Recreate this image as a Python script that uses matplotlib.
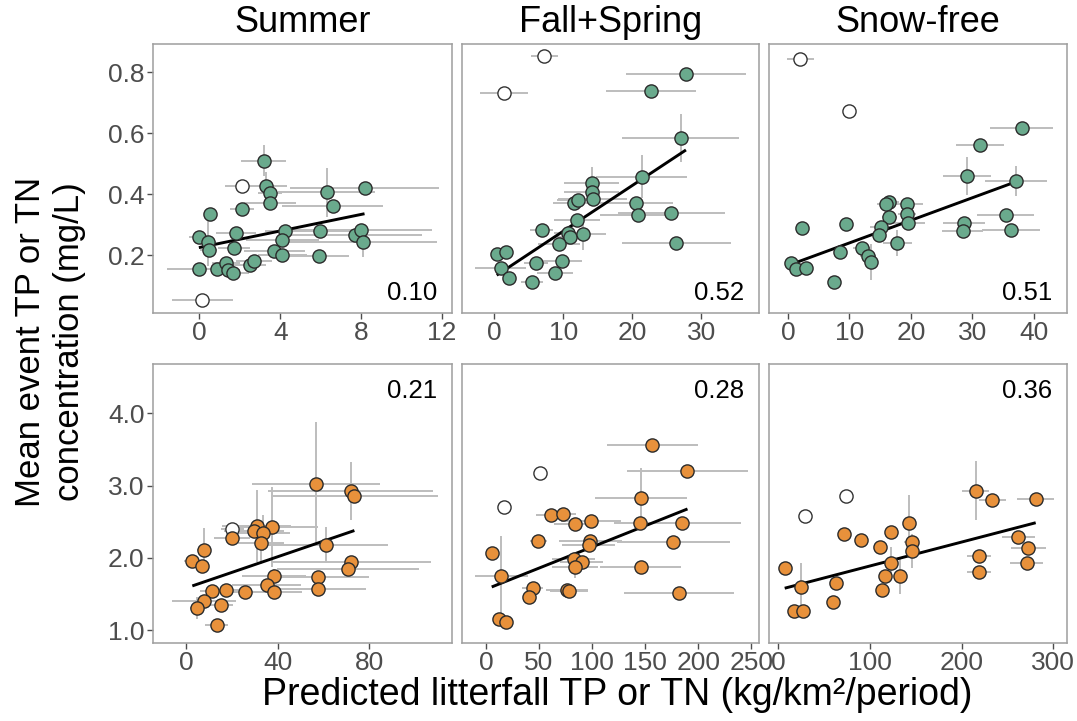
import matplotlib
matplotlib.use("Agg")
import matplotlib.pyplot as plt
import numpy as np

plt.rcParams['font.family'] = ['Liberation Sans', 'DejaVu Sans']

# ---------------- data ----------------
col_titles = ["Summer", "Fall+Spring", "Snow-free"]

# Summer TP
sum_tp_x = [3.17, 3.31, 3.50, 3.50, 2.10, 0.53, 6.31, 6.60, 8.17, -0.03, 0.40, 0.45, 1.82, 1.72, 4.25,
            4.10, 3.70, 4.10, 5.98, 5.92, 7.72, 8.02, 8.08, -0.03, 0.89, 1.31, 1.39, 1.65, 2.48, 2.71]
sum_tp_y = [0.510, 0.428, 0.403, 0.370, 0.350, 0.334, 0.406, 0.362, 0.421, 0.258, 0.243, 0.216, 0.271, 0.222, 0.279,
            0.249, 0.214, 0.200, 0.280, 0.197, 0.266, 0.282, 0.244, 0.156, 0.154, 0.175, 0.151, 0.140, 0.167, 0.181]
sum_tp_xerr = [1.1, 1.0, 0.6, 1.3, 0.6, 0.3, 2.4, 2.5, 3.7, 0.5, 0.4, 0.4, 1.0, 0.8, 1.0,
               1.8, 1.5, 1.2, 1.6, 1.5, 3.3, 3.5, 3.7, 1.6, 0.5, 0.7, 0.6, 0.8, 0.8, 0.9]
sum_tp_yerr = [0.05, 0.045, 0.03, 0.0, 0.0, 0.02, 0.08, 0.0, 0.0, 0.0, 0.08, 0.0, 0.0, 0.0, 0.0,
               0.0, 0.0, 0.0, 0.0, 0.0, 0.0, 0.0, 0.05, 0.0, 0.0, 0.0, 0.0, 0.0, 0.0, 0.0]
sum_tp_out_x = [2.13, 0.15]
sum_tp_out_y = [0.427, 0.054]
sum_tp_out_xerr = [0.85, 1.5]
sum_tp_fit = (0.225, 0.01357)   # intercept, slope
sum_tp_r2 = "0.10"

# Fall+Spring TP
fs_tp_x = [27.8, 22.7, 27.05, 21.35, 14.15, 14.15, 14.25, 11.55, 12.08, 20.6, 20.9, 25.7, 12.0, 6.86,
           10.7, 10.97, 12.9, 9.37, 26.4, 0.34, 1.64, 0.92, 2.13, 6.04, 9.8, 8.8, 5.5]
fs_tp_y = [0.793, 0.740, 0.585, 0.457, 0.438, 0.408, 0.383, 0.370, 0.381, 0.370, 0.331, 0.339, 0.315, 0.284,
           0.273, 0.260, 0.268, 0.238, 0.240, 0.203, 0.211, 0.158, 0.126, 0.175, 0.181, 0.140, 0.112]
fs_tp_xerr = [8.7, 6.5, 8.5, 6.6, 4.0, 4.0, 5.0, 3.0, 3.0, 5.3, 5.6, 7.8, 3.3, 1.7,
              2.0, 2.5, 3.3, 3.0, 7.9, 0.5, 0.5, 3.7, 0.8, 1.7, 2.9, 2.6, 1.6]
fs_tp_yerr = [0.0, 0.0, 0.078, 0.07, 0.05, 0.0, 0.0, 0.0, 0.0, 0.0, 0.0, 0.0, 0.0, 0.0,
              0.0, 0.0, 0.05, 0.0, 0.0, 0.0, 0.0, 0.0, 0.0, 0.0, 0.0, 0.0, 0.0]
fs_tp_out_x = [7.25, 1.40]
fs_tp_out_y = [0.854, 0.733]
fs_tp_out_xerr = [2.0, 3.5]
fs_tp_fit = (0.129, 0.01497)
fs_tp_r2 = "0.52"

# Snow-free TP
sf_tp_x = [38.0, 31.25, 29.2, 37.1, 16.5, 16.0, 19.4, 19.4, 16.5, 19.6, 15.1, 14.8, 35.4, 28.7, 28.4,
           36.25, 2.23, 9.5, 17.8, 8.4, 12.1, 13.0, 13.5, 0.43, 1.36, 3.0, 7.5]
sf_tp_y = [0.616, 0.561, 0.459, 0.443, 0.373, 0.367, 0.367, 0.335, 0.324, 0.306, 0.293, 0.266, 0.331, 0.307, 0.279,
           0.282, 0.290, 0.302, 0.240, 0.209, 0.224, 0.197, 0.177, 0.173, 0.156, 0.159, 0.112]
sf_tp_xerr = [5.2, 3.9, 3.9, 5.0, 1.5, 1.5, 2.5, 1.5, 1.2, 2.7, 1.8, 1.2, 4.7, 3.4, 3.3,
              4.7, 0.3, 0.3, 2.3, 0.4, 1.5, 1.3, 0.8, 0.5, 0.5, 0.5, 0.4]
sf_tp_yerr = [0.0, 0.0, 0.063, 0.05, 0.0, 0.0, 0.0, 0.0, 0.0, 0.0, 0.0, 0.0, 0.0, 0.0, 0.0,
              0.0, 0.0, 0.0, 0.043, 0.0, 0.0, 0.0, 0.06, 0.0, 0.0, 0.0, 0.0]
sf_tp_out_x = [2.0, 10.0]
sf_tp_out_y = [0.844, 0.674]
sf_tp_out_xerr = [2.2, 0.3]
sf_tp_fit = (0.166, 0.00741)
sf_tp_r2 = "0.51"

# Summer TN
sum_tn_x = [56.7, 71.9, 73.5, 37.5, 30.8, 29.8, 33.5, 20.1, 32.7, 7.85, 2.76, 6.98, 61.1, 71.9, 70.9,
            38.5, 57.7, 57.7, 35.2, 38.5, 25.7, 17.5, 11.3, 7.85, 4.65, 15.4, 13.4]
sum_tn_y = [3.022, 2.925, 2.856, 2.430, 2.440, 2.375, 2.348, 2.270, 2.210, 2.108, 1.956, 1.886, 2.177, 1.946, 1.840,
            1.748, 1.730, 1.564, 1.624, 1.527, 1.527, 1.554, 1.540, 1.400, 1.310, 1.356, 1.070]
sum_tn_xerr = [27.8, 36.0, 36.5, 20.0, 15.0, 13.0, 12.0, 8.0, 10.0, 3.0, 3.5, 3.0, 27.0, 35.0, 31.0,
               14.0, 22.0, 21.0, 15.0, 12.0, 8.0, 6.0, 5.0, 14.0, 3.0, 5.0, 5.0]
sum_tn_yerr = [0.86, 0.40, 0.0, 0.55, 0.50, 0.0, 0.25, 0.0, 0.30, 0.30, 0.0, 0.0, 0.25, 0.0, 0.0,
               0.10, 0.0, 0.0, 0.0, 0.0, 0.0, 0.0, 0.0, 0.0, 0.15, 0.0, 0.0]
sum_tn_out_x = [20.1]
sum_tn_out_y = [2.40]
sum_tn_out_xerr = [5.0]
sum_tn_fit = (1.583, 0.01082)
sum_tn_r2 = "0.21"

# Fall+Spring TN
fs_tn_x = [156.6, 189.9, 145.9, 145.6, 184.5, 176.6, 145.9, 182.0, 61.1, 72.5, 83.9, 99.1, 49.1, 98.4,
           96.8, 82.6, 90.2, 83.9, 5.4, 14.6, 44.0, 40.5, 76.3, 78.0, 12.7, 18.7]
fs_tn_y = [3.562, 3.200, 2.832, 2.486, 2.477, 2.223, 1.877, 1.517, 2.588, 2.606, 2.468, 2.514, 2.228, 2.237,
           2.177, 1.980, 1.937, 1.868, 2.071, 1.753, 1.578, 1.453, 1.563, 1.545, 1.153, 1.111]
fs_tn_xerr = [43.0, 57.0, 43.6, 25.0, 56.0, 53.0, 38.0, 52.0, 14.0, 12.0, 20.0, 28.0, 8.0, 30.0,
              25.0, 20.0, 20.0, 22.0, 0.0, 25.0, 10.0, 5.0, 20.0, 18.0, 0.0, 0.0]
fs_tn_yerr = [0.0, 0.0, 0.41, 0.0, 0.0, 0.0, 0.0, 0.0, 0.0, 0.0, 0.0, 0.0, 0.0, 0.0,
              0.0, 0.0, 0.0, 0.15, 0.0, 0.55, 0.0, 0.0, 0.0, 0.0, 0.0, 0.0]
fs_tn_out_x = [50.6, 17.4]
fs_tn_out_y = [3.17, 2.70]
fs_tn_out_xerr = [0.0, 0.0]
fs_tn_fit = (1.567, 0.005843)
fs_tn_r2 = "0.28"

# Snow-free TN
sf_tn_x = [215.3, 233.5, 280.7, 142.5, 123.6, 145.5, 145.5, 72.0, 90.9, 111.6, 261.8, 272.7, 270.9,
           219.3, 219.3, 122.9, 116.4, 132.7, 113.5, 63.6, 60.0, 7.3, 25.5, 17.1, 27.3]
sf_tn_y = [2.929, 2.800, 2.810, 2.477, 2.353, 2.225, 2.094, 2.325, 2.242, 2.146, 2.283, 2.140, 1.923,
           2.025, 1.808, 1.930, 1.753, 1.748, 1.554, 1.656, 1.393, 1.854, 1.600, 1.268, 1.268]
sf_tn_xerr = [15.0, 15.0, 20.0, 0.0, 0.0, 8.0, 0.0, 0.0, 0.0, 0.0, 18.0, 19.0, 18.0,
              13.0, 13.0, 8.0, 0.0, 0.0, 0.0, 0.0, 0.0, 0.0, 0.0, 0.0, 0.0]
sf_tn_yerr = [0.41, 0.0, 0.0, 0.39, 0.0, 0.0, 0.24, 0.0, 0.0, 0.0, 0.0, 0.0, 0.0,
              0.0, 0.0, 0.22, 0.0, 0.24, 0.0, 0.0, 0.0, 0.0, 0.33, 0.0, 0.0]
sf_tn_out_x = [29.5, 74.5]
sf_tn_out_y = [2.583, 2.856]
sf_tn_out_xerr = [0.0, 0.0]
sf_tn_fit = (1.557, 0.00331)
sf_tn_r2 = "0.36"

top_xticks = [[0, 4, 8, 12], [0, 10, 20, 30], [0, 10, 20, 30, 40]]
bot_xticks = [[0, 40, 80], [0, 50, 100, 150, 200, 250], [0, 100, 200, 300]]
top_yticks = [0.2, 0.4, 0.6, 0.8]
top_yticklabels = ["0.2", "0.4", "0.6", "0.8"]
bot_yticks = [1.0, 2.0, 3.0, 4.0]
bot_yticklabels = ["1.0", "2.0", "3.0", "4.0"]

# ---------------- styling ----------------
GREEN = "#6aaa8d"
ORANGE = "#e8913b"
ERR = "#bdbdbd"
BORDER = "#9e9e9e"
TICKC = "#4d4d4d"

W, H = 1077, 721
fig = plt.figure(figsize=(W / 100, H / 100), dpi=100)

col_px = [(153, 452), (462, 759), (769, 1067)]
row_px = [(44, 313), (364, 643)]
top_xlim = [(-2.3, 12.5), (-4.7, 38.4), (-3.1, 45.4)]
bot_xlim = [(-14.4, 116.1), (-22.6, 257.3), (-9.8, 314.8)]
top_ylim = (0.01, 0.893)
bot_ylim = (0.824, 4.68)

panels = [
    [(sum_tp_x, sum_tp_y, sum_tp_xerr, sum_tp_yerr, sum_tp_out_x, sum_tp_out_y, sum_tp_out_xerr, sum_tp_fit, sum_tp_r2),
     (fs_tp_x, fs_tp_y, fs_tp_xerr, fs_tp_yerr, fs_tp_out_x, fs_tp_out_y, fs_tp_out_xerr, fs_tp_fit, fs_tp_r2),
     (sf_tp_x, sf_tp_y, sf_tp_xerr, sf_tp_yerr, sf_tp_out_x, sf_tp_out_y, sf_tp_out_xerr, sf_tp_fit, sf_tp_r2)],
    [(sum_tn_x, sum_tn_y, sum_tn_xerr, sum_tn_yerr, sum_tn_out_x, sum_tn_out_y, sum_tn_out_xerr, sum_tn_fit, sum_tn_r2),
     (fs_tn_x, fs_tn_y, fs_tn_xerr, fs_tn_yerr, fs_tn_out_x, fs_tn_out_y, fs_tn_out_xerr, fs_tn_fit, fs_tn_r2),
     (sf_tn_x, sf_tn_y, sf_tn_xerr, sf_tn_yerr, sf_tn_out_x, sf_tn_out_y, sf_tn_out_xerr, sf_tn_fit, sf_tn_r2)],
]

for r in range(2):
    for c in range(3):
        x0, x1 = col_px[c]
        y0, y1 = row_px[r]
        ax = fig.add_axes([x0 / W, 1 - y1 / H, (x1 - x0) / W, (y1 - y0) / H])
        x, y, xe, ye, ox, oy, oxe, fit, r2 = panels[r][c]
        fill = GREEN if r == 0 else ORANGE
        x = np.array(x); y = np.array(y)
        # error bars
        ax.errorbar(ox, oy, xerr=oxe, fmt='none', ecolor=ERR, elinewidth=1.4, capsize=0, zorder=1)
        ax.errorbar(x, y, xerr=xe, yerr=ye, fmt='none', ecolor=ERR, elinewidth=1.4, capsize=0, zorder=1)
        # fit line
        xs = np.array([x.min(), x.max()])
        ax.plot(xs, fit[0] + fit[1] * xs, color='black', lw=2.1, zorder=2, solid_capstyle='butt')
        # points
        ax.plot(ox, oy, 'o', ms=9.5, mfc='white', mec='#333333', mew=1.0, zorder=3)
        ax.plot(x, y, 'o', ms=9.5, mfc=fill, mec='#2b2b2b', mew=1.0, zorder=4)

        ax.set_xlim(top_xlim[c] if r == 0 else bot_xlim[c])
        ax.set_ylim(top_ylim if r == 0 else bot_ylim)
        ax.set_xticks(top_xticks[c] if r == 0 else bot_xticks[c])
        if c == 0:
            if r == 0:
                ax.set_yticks(top_yticks, top_yticklabels)
            else:
                ax.set_yticks(bot_yticks, bot_yticklabels)
        else:
            ax.set_yticks(top_yticks if r == 0 else bot_yticks)
            ax.tick_params(axis='y', left=False, labelleft=False)
        ax.tick_params(axis='both', direction='out', length=4, width=1.0, color=TICKC,
                       labelcolor=TICKC, labelsize=19, pad=2)
        for s in ax.spines.values():
            s.set_color(BORDER)
            s.set_linewidth(1.1)
        if r == 0:
            ax.text(1 - 15 / (x1 - x0), 13 / (y1 - y0), r2, transform=ax.transAxes,
                    ha='right', va='baseline', fontsize=18.5, color='black')
            ax.set_title(col_titles[c], fontsize=26, pad=9)
        else:
            ax.text(1 - 15 / (x1 - x0), 1 - 34 / (y1 - y0), r2, transform=ax.transAxes,
                    ha='right', va='baseline', fontsize=18.5, color='black')

fig.text(50 / W, 1 - 342 / H, "Mean event TP or TN\nconcentration (mg/L)", rotation=90,
         ha='center', va='center', fontsize=25, linespacing=1.2)
fig.text(617 / W, 1 - 705 / H, "Predicted litterfall TP or TN (kg/km\u00b2/period)",
         ha='center', va='baseline', fontsize=27)

fig.savefig("out.png", dpi=100)
